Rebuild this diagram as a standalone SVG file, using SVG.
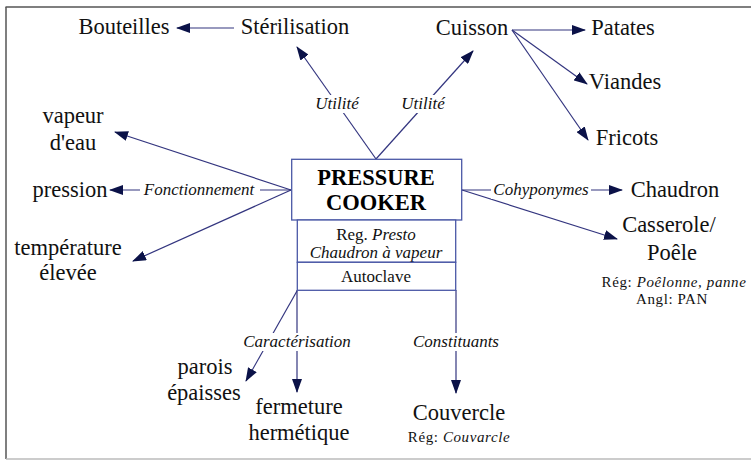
<svg xmlns="http://www.w3.org/2000/svg" width="751" height="460" viewBox="0 0 751 460">
<style>
.node-text{font-family:'Liberation Serif','Times New Roman',serif;font-size:22.5px;fill:#111;text-anchor:middle}
.small-text{font-family:'Liberation Serif','Times New Roman',serif;font-size:15px;letter-spacing:0.6px;fill:#111;text-anchor:middle}
.edge-label{font-family:'Liberation Serif','Times New Roman',serif;font-size:17px;font-style:italic;fill:#111;text-anchor:middle}
.title-text{font-family:'Liberation Serif','Times New Roman',serif;font-size:22.5px;font-weight:bold;fill:#000;text-anchor:middle}
.box-text{font-family:'Liberation Serif','Times New Roman',serif;font-size:17px;fill:#111;text-anchor:middle}
.edge{stroke:#33357f;stroke-width:1.2;fill:none}
.arrow{marker-end:url(#ah)}
.box{fill:#fff;stroke:#4a58a6;stroke-width:1.3}
.gap{fill:#fff}
</style>
<defs>
<marker id="ah" markerUnits="userSpaceOnUse" markerWidth="14" markerHeight="10" viewBox="0 0 14 10" refX="13" refY="5" orient="auto">
<path d="M0,0 L14,5 L0,10 Z" fill="#0b1248"/>
</marker>
</defs>
<rect x="-1" y="-1" width="753" height="462" fill="#fff"/>
<g id="frame">
<line x1="5.5" y1="7" x2="751" y2="7" stroke="#555" stroke-width="1.5"/>
<line x1="6" y1="7" x2="6" y2="459" stroke="#555" stroke-width="1.5"/>
<line x1="6" y1="459" x2="751" y2="459" stroke="#bbb" stroke-width="1.5"/>
</g>
<g id="connectors">
<line class="edge arrow" x1="234" y1="28" x2="177" y2="28"/>
<line class="edge arrow" x1="376" y1="159" x2="297" y2="47"/>
<line class="edge arrow" x1="376" y1="159" x2="473" y2="51"/>
<line class="edge arrow" x1="512" y1="30" x2="585" y2="30"/>
<line class="edge arrow" x1="512" y1="30" x2="587" y2="84"/>
<line class="edge arrow" x1="512" y1="30" x2="588" y2="140"/>
<line class="edge arrow" x1="291" y1="190" x2="115" y2="132"/>
<line class="edge arrow" x1="291" y1="190" x2="110" y2="190"/>
<line class="edge arrow" x1="291" y1="190" x2="133" y2="261"/>
<line class="edge arrow" x1="462" y1="190" x2="622" y2="190"/>
<line class="edge arrow" x1="462" y1="190" x2="617" y2="239"/>
<line class="edge arrow" x1="297" y1="291" x2="246" y2="381"/>
<line class="edge arrow" x1="297" y1="290" x2="297" y2="392"/>
<line class="edge arrow" x1="456" y1="290" x2="456" y2="393"/>
</g>
<g id="edge-labels">
<rect class="gap" x="311" y="95" width="52" height="18"/>
<text class="edge-label" x="337" y="109">Utilité</text>
<rect class="gap" x="398" y="95" width="50" height="18"/>
<text class="edge-label" x="423" y="109">Utilité</text>
<rect class="gap" x="140" y="181" width="120" height="18"/>
<text class="edge-label" x="199" y="195">Fonctionnement</text>
<rect class="gap" x="491" y="181" width="100" height="18"/>
<text class="edge-label" x="541" y="195">Cohyponymes</text>
<rect class="gap" x="240" y="333" width="114" height="18"/>
<text class="edge-label" x="297" y="347">Caractérisation</text>
<rect class="gap" x="410" y="333" width="92" height="18"/>
<text class="edge-label" x="456" y="347">Constituants</text>
</g>
<g id="center">
<rect class="box" x="291.7" y="159.3" width="170" height="60.7"/>
<text class="title-text" x="376" y="185">PRESSURE</text>
<text class="title-text" x="376" y="210">COOKER</text>
<rect class="box" x="297.3" y="220" width="158.4" height="42.3"/>
<text class="box-text" x="376" y="240">Reg. <tspan font-style="italic">Presto</tspan></text>
<text class="box-text" x="376" y="258" font-style="italic">Chaudron à vapeur</text>
<rect class="box" x="297.3" y="262.3" width="158.4" height="28"/>
<text class="box-text" x="376" y="282">Autoclave</text>
</g>
<g id="bouteilles"><text class="node-text" x="124" y="34">Bouteilles</text></g>
<g id="sterilisation"><text class="node-text" x="295" y="34">Stérilisation</text></g>
<g id="cuisson"><text class="node-text" x="472" y="35">Cuisson</text></g>
<g id="patates"><text class="node-text" x="623" y="35">Patates</text></g>
<g id="viandes"><text class="node-text" x="625" y="89">Viandes</text></g>
<g id="fricots"><text class="node-text" x="627" y="145">Fricots</text></g>
<g id="vapeur"><text class="node-text" x="73" y="123">vapeur</text><text class="node-text" x="73" y="150">d'eau</text></g>
<g id="pression"><text class="node-text" x="70" y="197">pression</text></g>
<g id="temperature"><text class="node-text" x="68" y="255">température</text><text class="node-text" x="68" y="280">élevée</text></g>
<g id="chaudron"><text class="node-text" x="675" y="197">Chaudron</text></g>
<g id="casserole"><text class="node-text" x="669" y="232">Casserole/</text><text class="node-text" x="672" y="260">Poêle</text>
<text class="small-text" x="674" y="286.5">Rég: <tspan font-style="italic">Poêlonne, panne</tspan></text>
<text class="small-text" x="672" y="304">Angl: PAN</text></g>
<g id="parois"><text class="node-text" x="205" y="374">parois</text><text class="node-text" x="204" y="400">épaisses</text></g>
<g id="fermeture"><text class="node-text" x="299" y="414">fermeture</text><text class="node-text" x="299" y="440">hermétique</text></g>
<g id="couvercle"><text class="node-text" x="459" y="420">Couvercle</text><text class="small-text" x="459" y="442">Rég: <tspan font-style="italic">Couvarcle</tspan></text></g>
</svg>
